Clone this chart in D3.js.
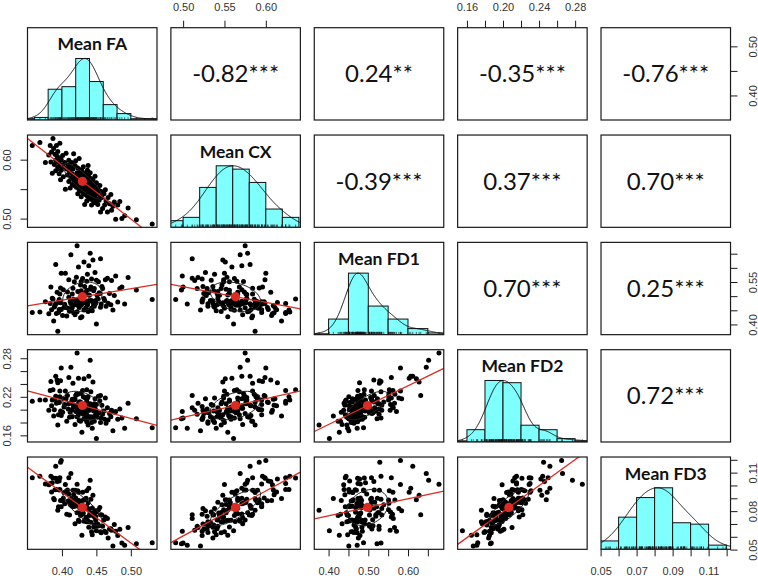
<!DOCTYPE html>
<html><head><meta charset="utf-8">
<script src="https://cdn.jsdelivr.net/npm/d3@7/dist/d3.min.js"></script>
<style>body{margin:0;background:#fff}svg{display:block}</style>
</head><body>
<svg id="c" width="758" height="578"></svg>
<script>
// ---------- data ----------
const varNames = ["Mean FA", "Mean CX", "Mean FD1", "Mean FD2", "Mean FD3"];

const meanFA = [
0.357,0.368,0.376,0.381,0.383,0.384,0.385,0.386,0.387,0.388,
0.389,0.390,0.391,0.391,0.392,0.393,0.394,0.394,0.395,0.396,
0.396,0.397,0.397,0.398,0.398,0.399,0.399,0.401,0.402,0.403,
0.404,0.405,0.406,0.407,0.408,0.409,0.410,0.410,0.411,0.412,
0.413,0.413,0.414,0.415,0.415,0.416,0.417,0.417,0.418,0.419,
0.419,0.420,0.420,0.421,0.421,0.422,0.422,0.423,0.423,0.424,
0.424,0.424,0.425,0.425,0.426,0.426,0.427,0.427,0.428,0.428,
0.428,0.429,0.429,0.430,0.430,0.431,0.431,0.432,0.432,0.432,
0.433,0.433,0.434,0.434,0.435,0.435,0.435,0.436,0.436,0.436,
0.437,0.437,0.437,0.438,0.438,0.438,0.439,0.439,0.439,0.440,
0.440,0.441,0.441,0.442,0.442,0.443,0.443,0.444,0.444,0.445,
0.445,0.446,0.446,0.447,0.447,0.448,0.448,0.449,0.449,0.450,
0.450,0.451,0.452,0.453,0.454,0.455,0.456,0.456,0.457,0.458,
0.459,0.461,0.462,0.463,0.464,0.466,0.467,0.469,0.471,0.472,
0.474,0.476,0.478,0.481,0.484,0.487,0.491,0.496,0.508,0.531];

const meanCX = [
0.624,0.629,0.595,0.608,0.624,0.596,0.613,0.577,0.636,0.619,
0.592,0.609,0.599,0.581,0.624,0.606,0.587,0.614,0.595,0.576,
0.603,0.584,0.628,0.592,0.566,0.600,0.582,0.607,0.571,0.587,
0.595,0.550,0.611,0.584,0.574,0.591,0.563,0.599,0.580,0.552,
0.587,0.569,0.595,0.576,0.558,0.584,0.565,0.610,0.556,0.572,
0.590,0.562,0.598,0.571,0.553,0.575,0.578,0.542,0.586,0.568,
0.559,0.576,0.549,0.602,0.566,0.557,0.583,0.547,0.573,0.564,
0.537,0.581,0.554,0.562,0.571,0.543,0.588,0.560,0.551,0.569,
0.524,0.577,0.558,0.541,0.566,0.548,0.575,0.556,0.530,0.565,
0.555,0.582,0.538,0.563,0.546,0.590,0.554,0.536,0.571,0.544,
0.562,0.578,0.552,0.533,0.568,0.550,0.523,0.558,0.540,0.566,
0.548,0.529,0.556,0.546,0.537,0.572,0.527,0.544,0.553,0.534,
0.561,0.542,0.524,0.549,0.531,0.556,0.538,0.511,0.546,0.536,
0.517,0.542,0.523,0.549,0.530,0.511,0.536,0.525,0.541,0.514,
0.521,0.528,0.499,0.523,0.529,0.500,0.505,0.518,0.498,0.491];

const meanFD1 = [
0.442,0.444,0.480,0.438,0.474,0.532,0.452,0.493,0.490,0.412,
0.462,0.467,0.473,0.612,0.439,0.514,0.376,0.478,0.442,0.488,
0.453,0.508,0.451,0.529,0.477,0.581,0.453,0.432,0.523,0.461,
0.471,0.581,0.460,0.430,0.515,0.457,0.496,0.558,0.447,0.481,
0.474,0.646,0.452,0.508,0.460,0.528,0.489,0.441,0.551,0.434,
0.470,0.472,0.480,0.482,0.567,0.678,0.445,0.516,0.489,0.467,
0.603,0.477,0.464,0.460,0.514,0.474,0.424,0.539,0.552,0.468,
0.519,0.473,0.427,0.562,0.479,0.481,0.483,0.486,0.621,0.451,
0.534,0.506,0.454,0.511,0.508,0.477,0.459,0.521,0.473,0.553,
0.471,0.469,0.577,0.482,0.446,0.480,0.504,0.484,0.607,0.503,
0.450,0.652,0.524,0.485,0.532,0.457,0.561,0.483,0.448,0.478,
0.628,0.519,0.468,0.527,0.464,0.473,0.584,0.475,0.485,0.556,
0.402,0.503,0.491,0.551,0.512,0.509,0.461,0.632,0.472,0.534,
0.527,0.492,0.485,0.558,0.464,0.563,0.475,0.509,0.470,0.555,
0.451,0.502,0.571,0.479,0.527,0.532,0.472,0.566,0.522,0.488];

const meanFD2 = [
0.213,0.215,0.215,0.199,0.230,0.244,0.206,0.215,0.231,0.190,
0.200,0.216,0.221,0.252,0.210,0.246,0.176,0.242,0.192,0.212,
0.211,0.229,0.220,0.245,0.198,0.265,0.191,0.196,0.217,0.204,
0.208,0.229,0.217,0.182,0.222,0.201,0.209,0.250,0.188,0.196,
0.211,0.266,0.200,0.216,0.189,0.241,0.204,0.207,0.215,0.177,
0.216,0.197,0.222,0.206,0.224,0.288,0.189,0.203,0.224,0.192,
0.249,0.209,0.183,0.212,0.212,0.198,0.182,0.212,0.225,0.195,
0.198,0.207,0.165,0.230,0.202,0.193,0.220,0.204,0.248,0.186,
0.199,0.219,0.185,0.197,0.218,0.192,0.194,0.213,0.181,0.231,
0.191,0.206,0.218,0.199,0.176,0.220,0.202,0.187,0.252,0.199,
0.187,0.277,0.209,0.189,0.228,0.180,0.205,0.204,0.171,0.202,
0.243,0.198,0.189,0.209,0.182,0.202,0.217,0.192,0.199,0.208,
0.155,0.195,0.188,0.221,0.195,0.214,0.180,0.222,0.187,0.207,
0.193,0.198,0.185,0.218,0.179,0.203,0.184,0.194,0.189,0.199,
0.167,0.196,0.197,0.185,0.201,0.187,0.171,0.210,0.186,0.172];

const meanFD3 = [
0.1060,0.1071,0.1012,0.1005,0.1016,0.1072,0.0950,0.1021,0.1059,0.0899,
0.0888,0.0967,0.1057,0.1150,0.0968,0.1030,0.0807,0.1050,0.0835,0.0964,
0.1035,0.1060,0.0968,0.1180,0.0883,0.1195,0.0835,0.0883,0.0900,0.0945,
0.0858,0.1008,0.0948,0.0776,0.0964,0.0878,0.0933,0.1060,0.0770,0.0852,
0.0899,0.1093,0.0841,0.0867,0.0838,0.0962,0.0837,0.0928,0.0887,0.0701,
0.0963,0.0840,0.0903,0.0857,0.0886,0.1010,0.0788,0.0870,0.0958,0.0729,
0.0947,0.0880,0.0719,0.0880,0.0822,0.0867,0.0766,0.0850,0.0861,0.0791,
0.0772,0.0844,0.0612,0.0947,0.0778,0.0785,0.0884,0.0838,0.0889,0.0721,
0.0820,0.0892,0.0729,0.0732,0.0900,0.0753,0.0731,0.0834,0.0717,0.0959,
0.0729,0.0822,0.0821,0.0719,0.0717,0.0865,0.0809,0.0674,0.0979,0.0769,
0.0766,0.1040,0.0787,0.0714,0.0892,0.0640,0.0775,0.0825,0.0615,0.0779,
0.0924,0.0761,0.0676,0.0789,0.0692,0.0751,0.0802,0.0758,0.0727,0.0793,
0.0647,0.0683,0.0699,0.0811,0.0686,0.0828,0.0639,0.0771,0.0631,0.0770,
0.0682,0.0730,0.0643,0.0755,0.0633,0.0743,0.0590,0.0661,0.0662,0.0651,
0.0529,0.0695,0.0643,0.0611,0.0658,0.0552,0.0535,0.0672,0.0545,0.0554];

// correlation labels of the upper panels (row by row)
const corRow1 = ["-0.82***", "0.24**", "-0.35***", "-0.76***"];
const corRow2 = ["-0.39***", "0.37***", "0.70***"];
const corRow3 = ["0.70***", "0.25***"];
const corRow4 = ["0.72***"];

// histogram breaks
const breaksFA  = [0.34,0.36,0.38,0.40,0.42,0.44,0.46,0.48,0.50,0.52,0.54];
const breaksCX  = [0.48,0.50,0.52,0.54,0.56,0.58,0.60,0.62,0.64];
const breaksFD1 = [0.35,0.40,0.45,0.50,0.55,0.60,0.65,0.70];
const breaksFD2 = [0.14,0.16,0.18,0.20,0.22,0.24,0.26,0.28,0.30];
const breaksFD3 = [0.05,0.06,0.07,0.08,0.09,0.10,0.11,0.12];

// axis ticks and labelled ticks
const ticksTopCX = [0.50,0.55,0.60],            labTopCX = [0.50,0.55,0.60];
const ticksTopFD2 = [0.16,0.18,0.20,0.22,0.24,0.26,0.28], labTopFD2 = [0.16,0.20,0.24,0.28];
const ticksRightFA = [0.40,0.45,0.50],          labRightFA = [0.40,0.50];
const ticksRightFD1 = [0.40,0.45,0.50,0.55,0.60,0.65], labRightFD1 = [0.40,0.55];
const ticksRightFD3 = [0.05,0.06,0.07,0.08,0.09,0.10,0.11,0.12], labRightFD3 = [0.05,0.08,0.11];
const ticksLeftCX = [0.50,0.55,0.60],           labLeftCX = [0.50,0.60];
const ticksLeftFD2 = [0.16,0.18,0.20,0.22,0.24,0.26,0.28], labLeftFD2 = [0.16,0.22,0.28];
const ticksBottomFA = [0.40,0.45,0.50],         labBottomFA = [0.40,0.45,0.50];
const ticksBottomFD1 = [0.40,0.45,0.50,0.55,0.60,0.65], labBottomFD1 = [0.40,0.50,0.60];
const ticksBottomFD3 = [0.05,0.06,0.07,0.08,0.09,0.10,0.11,0.12], labBottomFD3 = [0.05,0.07,0.09,0.11];

// ---------- layout ----------
const series = [meanFA, meanCX, meanFD1, meanFD2, meanFD3];
const breaks = [breaksFA, breaksCX, breaksFD1, breaksFD2, breaksFD3];
const corRows = [corRow1, corRow2, corRow3, corRow4];
const N = 5;
const X0 = 27.5, Y0 = 27.7, PW = 129.5, PH = 92.3, DX = 143.38, DY = 107.33;
const colL = j => X0 + j * DX;
const rowT = i => Y0 + i * DY;
const RED = "#dc2b22", CYAN = "#80ffff";

const doms = series.map(v => { const [lo, hi] = d3.extent(v); const e = (hi - lo) * 0.04; return [lo - e, hi + e]; });
const xS = j => d3.scaleLinear().domain(doms[j]).range([colL(j), colL(j) + PW]);
const yS = i => d3.scaleLinear().domain(doms[i]).range([rowT(i) + PH, rowT(i)]);

const svg = d3.select("#c");
const defs = svg.append("defs");
for (let i = 0; i < N; i++) for (let j = 0; j < N; j++) {
  defs.append("clipPath").attr("id", `cp${i}${j}`).append("rect")
    .attr("x", colL(j)).attr("y", rowT(i)).attr("width", PW).attr("height", PH);
}

function bwNrd(v) {
  const s = d3.sort(v);
  const sd = d3.deviation(v);
  const iqr = d3.quantile(s, 0.75) - d3.quantile(s, 0.25);
  return 1.06 * Math.min(sd, iqr / 1.34) * Math.pow(v.length, -0.2);
}

for (let i = 0; i < N; i++) {
  for (let j = 0; j < N; j++) {
    const g = svg.append("g").attr("clip-path", `url(#cp${i}${j})`);
    const L = colL(j), T = rowT(i), B = T + PH;
    if (i === j) {
      const v = series[i], br = breaks[i], x = xS(j);
      const counts = new Array(br.length - 1).fill(0);
      v.forEach(val => {
        let k = d3.bisectLeft(br, val - 1e-12) - 1;
        k = Math.max(0, Math.min(br.length - 2, k));
        counts[k]++;
      });
      const mx = d3.max(counts);
      const yH = d3.scaleLinear().domain([0, 1.5]).range([B, T]);
      g.selectAll("rect.bar").data(counts).join("rect")
        .attr("x", (c, k) => x(br[k])).attr("width", (c, k) => x(br[k + 1]) - x(br[k]))
        .attr("y", c => yH(c / mx)).attr("height", c => B - yH(c / mx))
        .attr("fill", CYAN).attr("stroke", "#111").attr("stroke-width", 1);
      // density
      const bw = 1.2 * bwNrd(v);
      const [lo, hi] = d3.extent(v);
      const grid = d3.range(512).map(k => lo - 3 * bw + k * (hi - lo + 6 * bw) / 511);
      const dens = grid.map(gx => d3.sum(v, t => Math.exp(-0.5 * ((gx - t) / bw) ** 2)));
      const dm = d3.max(dens);
      g.append("path").datum(grid.map((gx, k) => [gx, dens[k] / dm]))
        .attr("d", d3.line().x(d => x(d[0])).y(d => yH(d[1])))
        .attr("fill", "none").attr("stroke", "#111").attr("stroke-width", 1);
      // rug
      g.selectAll("line.rug").data(v).join("line")
        .attr("x1", d => x(d)).attr("x2", d => x(d))
        .attr("y1", B).attr("y2", B - 0.03 * PH)
        .attr("stroke", "#111").attr("stroke-width", 0.6);
      svg.append("text").attr("x", L + PW / 2).attr("y", T + 22.5)
        .attr("text-anchor", "middle").attr("font-family", "Lato, 'Open Sans', sans-serif")
        .attr("font-weight", 700).attr("font-size", 17.5).attr("fill", "#111").text(varNames[i]);
    } else if (i < j) {
      svg.append("text").attr("x", L + PW / 2).attr("y", T + PH / 2 + 8.6)
        .attr("text-anchor", "middle").attr("font-family", "Lato, 'Open Sans', sans-serif")
        .attr("font-size", 24).attr("fill", "#111").text(corRows[i][j - i - 1]);
    } else {
      const xv = series[j], yv = series[i], x = xS(j), y = yS(i);
      const pts = xv.map((d, k) => [d, yv[k]]);
      g.selectAll("circle.pt").data(pts).join("circle")
        .attr("cx", d => x(d[0])).attr("cy", d => y(d[1])).attr("r", 2.5).attr("fill", "#000");
      const mx = d3.mean(xv), my = d3.mean(yv);
      const sx = d3.deviation(xv), sy = d3.deviation(yv);
      let sxy = 0, sxx = 0;
      xv.forEach((d, k) => { sxy += (d - mx) * (yv[k] - my); sxx += (d - mx) ** 2; });
      const slope = sxy / sxx, icpt = my - slope * mx;
      const r = sxy / ((xv.length - 1) * sx * sy);
      const [d0, d1] = doms[j];
      g.append("line").attr("x1", x(d0)).attr("y1", y(icpt + slope * d0))
        .attr("x2", x(d1)).attr("y2", y(icpt + slope * d1))
        .attr("stroke", RED).attr("stroke-width", 1.3);
      // correlation ellipse (1 sd)
      const th = r !== 0 ? Math.sign(r) / Math.SQRT2 : 1 / Math.SQRT2;
      const a1 = Math.sqrt(1 + r) * th, a2 = Math.sqrt(1 - r) * th;
      const ell = d3.range(52).map(k => {
        const ang = k * 2 * Math.PI / 51, c = Math.cos(ang), s = Math.sin(ang);
        return [(c * a1 - s * a2) * sx + mx, (c * a1 + s * a2) * sy + my];
      });
      g.append("path").datum(ell).attr("d", d3.line().x(d => x(d[0])).y(d => y(d[1])))
        .attr("fill", "none").attr("stroke", "#222").attr("stroke-width", 1);
      g.append("circle").attr("cx", x(mx)).attr("cy", y(my)).attr("r", 4.6).attr("fill", RED);
    }
    svg.append("rect").attr("x", L).attr("y", T).attr("width", PW).attr("height", PH)
      .attr("fill", "none").attr("stroke", "#1a1a1a").attr("stroke-width", 1.2);
  }
}

// ---------- axes ----------
const fmt = d3.format(".2f");
function tf(labs) { return d => labs.some(l => Math.abs(l - d) < 1e-9) ? fmt(d) : ""; }
function styleAxis(g) {
  g.select(".domain").remove();
  g.selectAll(".tick line").attr("stroke", "#1a1a1a");
  g.selectAll("text").attr("font-family", "'Liberation Sans', Arial, sans-serif")
    .attr("font-size", 11).attr("fill", "#333");
}
function topAxis(j, ticks, labs) {
  const g = svg.append("g").attr("transform", `translate(0,${rowT(0)})`)
    .call(d3.axisTop(xS(j)).tickValues(ticks).tickSize(7).tickPadding(10).tickFormat(tf(labs)));
  styleAxis(g);
}
function bottomAxis(j, ticks, labs) {
  const g = svg.append("g").attr("transform", `translate(0,${rowT(4) + PH})`)
    .call(d3.axisBottom(xS(j)).tickValues(ticks).tickSize(7).tickPadding(11).tickFormat(tf(labs)));
  styleAxis(g);
}
function leftAxis(i, ticks, labs) {
  const g = svg.append("g").attr("transform", `translate(${colL(0)},0)`)
    .call(d3.axisLeft(yS(i)).tickValues(ticks).tickSize(7).tickFormat(tf(labs)));
  styleAxis(g);
  g.selectAll(".tick text").attr("x", null).attr("dy", null)
    .attr("text-anchor", "middle").attr("transform", "translate(-16.5,0) rotate(-90)");
}
function rightAxis(i, ticks, labs) {
  const g = svg.append("g").attr("transform", `translate(${colL(4) + PW},0)`)
    .call(d3.axisRight(yS(i)).tickValues(ticks).tickSize(7).tickFormat(tf(labs)));
  styleAxis(g);
  g.selectAll(".tick text").attr("x", null).attr("dy", null)
    .attr("text-anchor", "middle").attr("transform", "translate(26.5,0) rotate(-90)");
}
topAxis(1, ticksTopCX, labTopCX);
topAxis(3, ticksTopFD2, labTopFD2);
bottomAxis(0, ticksBottomFA, labBottomFA);
bottomAxis(2, ticksBottomFD1, labBottomFD1);
bottomAxis(4, ticksBottomFD3, labBottomFD3);
leftAxis(1, ticksLeftCX, labLeftCX);
leftAxis(3, ticksLeftFD2, labLeftFD2);
rightAxis(0, ticksRightFA, labRightFA);
rightAxis(2, ticksRightFD1, labRightFD1);
rightAxis(4, ticksRightFD3, labRightFD3);
</script>
</body></html>
